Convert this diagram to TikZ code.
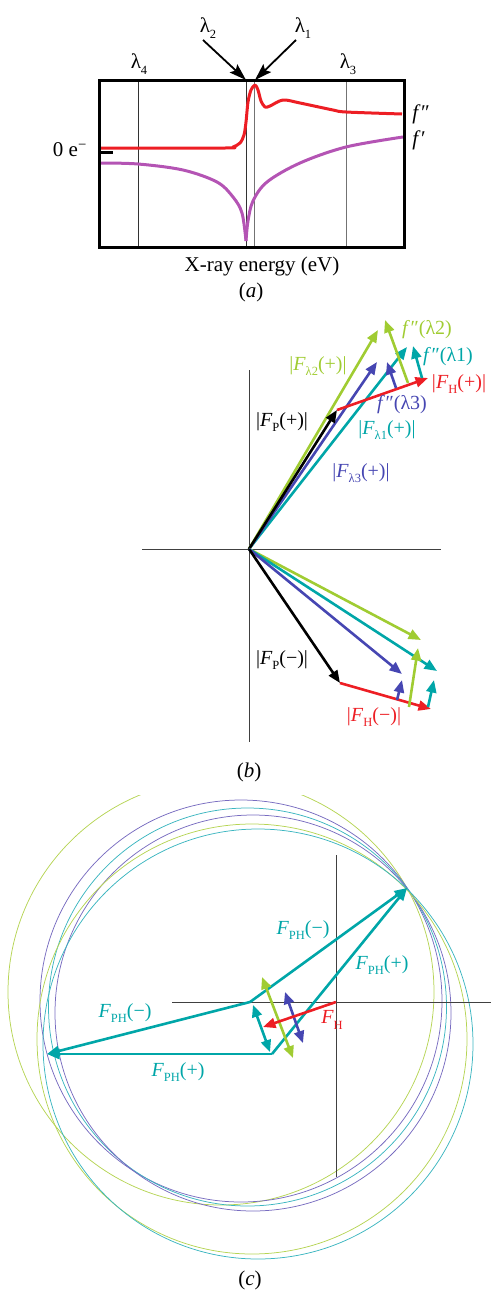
\documentclass[tikz,border=0pt]{standalone}
\usepackage{fontspec}
\setmainfont{Liberation Serif}
\usetikzlibrary{arrows.meta}
\definecolor{aRed}{RGB}{237,30,36}
\definecolor{aPur}{RGB}{180,84,180}
\definecolor{lgreen}{RGB}{160,204,50}
\definecolor{teal1}{RGB}{0,166,168}
\definecolor{blue3}{RGB}{70,70,178}
\definecolor{cPur}{RGB}{120,108,192}
\definecolor{cCya}{RGB}{60,182,192}
\definecolor{cGrn}{RGB}{182,212,84}
\newcommand\sub[1]{\raisebox{-0.28em}{\fontsize{12.5}{12.5}\selectfont #1}}
\newcommand\fpp{\textit{f}\kern0.5pt″}
\newcommand\fp{\textit{f}\kern0.5pt′}
\begin{document}
\begin{tikzpicture}[x=1pt,y=-1pt,
  lbl/.style={font=\fontsize{20}{22}\selectfont, inner sep=0pt},
  albl/.style={font=\fontsize{21}{23}\selectfont, inner sep=0pt},
  vec/.style={line width=2.6pt, -{Triangle[length=12.5pt,width=10pt]}},
  dvec/.style={line width=2.6pt, {Triangle[length=12pt,width=10pt]}-{Triangle[length=12pt,width=10pt]}},
  lamarrow/.style={line width=1.8pt, -{Stealth[length=17pt,width=11pt,inset=3pt]}},
  circ/.style={line width=0.75pt},
  axis/.style={line width=0.9pt, black!75}]
\useasboundingbox (0,0) rectangle (491,1293);

% ---------------- panel (a) ----------------
\draw[black!80, line width=1pt] (138,80) -- (138,247);
\draw[black!80, line width=1pt] (246,80) -- (246,247);
\draw[black!55, line width=1pt] (254,80) -- (254,247);
\draw[black!55, line width=1pt] (346,80) -- (346,247);
\draw[line width=3pt] (99,152) -- (113,152);
\draw[aPur, line width=3pt, line join=round] plot[smooth, tension=0.55] coordinates
  {(99,163) (138,164) (183,170) (217,182) (233,197) (242,213) (246,241)};
\draw[aPur, line width=3pt, line join=round] plot[smooth, tension=0.55] coordinates
  {(246,241) (248,221) (253,201) (267,182) (300,163) (346,147) (403,137)};
\draw[aRed, line width=3pt, line join=round] plot[smooth, tension=0.5] coordinates
  {(99,148) (225,148) (233,147) (240,143) (244,135) (246,122) (248,102) (251,90) (255,85) (258,90) (261,101) (265,107) (270,106) (283,100) (300,103) (333,110) (346,112) (402,114)};
\draw[line width=3pt] (99,80) rectangle (404,247);

\node[albl, anchor=east] (zero) at (87,150) {0 e\textsuperscript{−}};
\node[albl] (fppl) at (421,114) {\fpp};
\node[albl] (fpl) at (419,140) {\fp};
\node[albl] (lam2) at (208,28) {λ\sub{2}};
\node[albl] (lam1) at (303,28) {λ\sub{1}};
\node[albl] (lam4) at (139,64) {λ\sub{4}};
\node[albl] (lam3) at (348,64) {λ\sub{3}};
\coordinate (l2s) at (203,40);
\coordinate (l2e) at (246,80);
\coordinate (l1s) at (296,40);
\coordinate (l1e) at (255,80);
\draw[lamarrow] (l2s) -- (l2e);
\draw[lamarrow] (l1s) -- (l1e);
\node[albl] (xray) at (262,266) {X-ray energy (eV)};
\node[albl] (capa) at (251,292) {(\textit{a})};

% ---------------- panel (b) ----------------
\coordinate (Ob) at (249,549);
\coordinate (bt) at (249,370);
\coordinate (bb) at (249,742);
\coordinate (bl) at (142,549);
\coordinate (br) at (441,549);
\draw[axis] (bt) -- (bb);
\draw[axis] (bl) -- (br);
% (+) vectors
\coordinate (Pp) at (337,410);
\coordinate (Hp) at (428,378);
\coordinate (G2p) at (378,330);
\coordinate (g2s) at (408,383);
\coordinate (g2e) at (385,320);
\coordinate (B3p) at (377,362);
\coordinate (b3s) at (396,388);
\coordinate (b3e) at (387,362);
\coordinate (C1p) at (407,347);
\coordinate (c1s) at (422,378);
\coordinate (c1e) at (413,346);
\draw[vec, teal1] (Ob) -- (C1p);
\draw[vec, blue3] (Ob) -- (B3p);
\draw[vec, lgreen] (Ob) -- (G2p);
\draw[vec, black] (Ob) -- (Pp);
\draw[vec, aRed] (Pp) -- (Hp);
\draw[vec, lgreen] (g2s) -- (g2e);
\draw[vec, blue3] (b3s) -- (b3e);
\draw[vec, teal1] (c1s) -- (c1e);
% (-) vectors
\coordinate (Pm) at (340,683);
\coordinate (Hm) at (431,709);
\coordinate (B3m) at (402,674);
\coordinate (b3ms) at (397,700);
\coordinate (b3me) at (402,680);
\coordinate (G2m) at (421,640);
\coordinate (g2ms) at (409,707);
\coordinate (g2me) at (418,648);
\coordinate (C1m) at (437,671);
\coordinate (c1ms) at (428,707);
\coordinate (c1me) at (434,680);
\draw[vec, lgreen] (Ob) -- (G2m);
\draw[vec, teal1] (Ob) -- (C1m);
\draw[vec, blue3] (Ob) -- (B3m);
\draw[vec, black] (Ob) -- (Pm);
\draw[vec, aRed] (Pm) -- (Hm);
\draw[vec, blue3] (b3ms) -- (b3me);
\draw[vec, lgreen] (g2ms) -- (g2me);
\draw[vec, teal1] (c1ms) -- (c1me);
% labels
\node[lbl, text=lgreen] (tf2) at (427,330) {\fpp(λ2)};
\node[lbl, text=lgreen] (tF2) at (318,366) {|\textit{F}\sub{λ2}(+)|};
\node[lbl, text=teal1] (tf1) at (448,357) {\fpp(λ1)};
\node[lbl, text=aRed] (tHp) at (459,384) {|\textit{F}\sub{H}(+)|};
\node[lbl, text=blue3] (tf3) at (402,405) {\fpp(λ3)};
\node[lbl, text=teal1] (tF1) at (387,430) {|\textit{F}\sub{λ1}(+)|};
\node[lbl] (tPp) at (282,422) {|\textit{F}\sub{P}(+)|};
\node[lbl, text=blue3] (tF3) at (361,473) {|\textit{F}\sub{λ3}(+)|};
\node[lbl] (tPm) at (282,660) {|\textit{F}\sub{P}(−)|};
\node[lbl, text=aRed] (tHm) at (374,717) {|\textit{F}\sub{H}(−)|};
\node[albl] (capb) at (249,772) {(\textit{b})};

% ---------------- panel (c) ----------------
\begin{scope}
\clip (0,795) rectangle (491,1293);
\draw[circ, cGrn] (221,992) circle[radius=213pt];
\end{scope}
\draw[circ, cPur] (241,1001) circle[radius=201pt];
\draw[circ, cCya] (247.5,1007) circle[radius=199pt];
\draw[circ, cPur] (253,1013) circle[radius=198pt];
\draw[circ, cGrn] (252,1039) circle[radius=215pt];
\draw[circ, cCya] (258,1044) circle[radius=215pt];
\coordinate (ct) at (336,855);
\coordinate (cb) at (336,1177);
\coordinate (cl) at (172,1002);
\coordinate (cr) at (491,1002);
\draw[axis] (ct) -- (cb);
\draw[axis] (cl) -- (cr);
\coordinate (Oc) at (336,1002);
\coordinate (T) at (407,888);
\coordinate (L) at (47,1054);
\coordinate (A) at (250,1002);
\coordinate (B) at (272,1054);
\draw[vec, teal1] (A) -- (T);
\draw[vec, teal1] (B) -- (T);
\draw[vec, teal1] (A) -- (L);
\draw[vec, teal1] (B) -- (L);
\coordinate (cys) at (253,1005);
\coordinate (cye) at (270,1052);
\coordinate (grs) at (262,977);
\coordinate (gre) at (293,1058);
\coordinate (bls) at (285,992);
\coordinate (ble) at (303,1043);
\coordinate (FHe) at (263,1027);
\draw[dvec, teal1] (cys) -- (cye);
\draw[dvec, lgreen] (grs) -- (gre);
\draw[dvec, blue3] (bls) -- (ble);
\draw[vec, aRed] (Oc) -- (FHe);
\node[lbl, text=teal1] (tPHm1) at (303,930) {\textit{F}\sub{PH}(−)};
\node[lbl, text=teal1] (tPHp1) at (382,965) {\textit{F}\sub{PH}(+)};
\node[lbl, text=teal1] (tPHm2) at (125,1013) {\textit{F}\sub{PH}(−)};
\node[lbl, text=teal1] (tPHp2) at (178,1072) {\textit{F}\sub{PH}(+)};
\node[lbl, text=aRed] (tFH) at (332,1020) {\textit{F}\sub{H}};
\node[albl] (capc) at (250,1280) {(\textit{c})};
\end{tikzpicture}
\end{document}
